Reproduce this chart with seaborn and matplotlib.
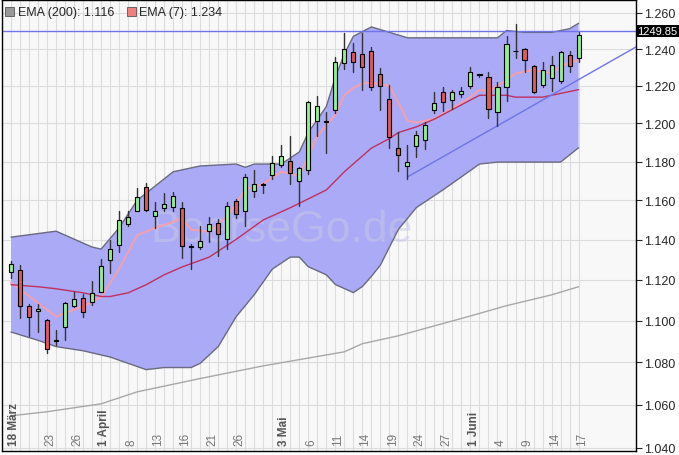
import numpy as np
import pandas as pd
import matplotlib
matplotlib.use("Agg")
import matplotlib.pyplot as plt
import matplotlib.patches as mpatches
import seaborn as sns

# --- Kerzen (Open, High, Low, Close) je Handelstag ---
opens = [1.124, 1.125, 1.107, 1.1045, 1.1005, 1.090, 1.097, 1.107, 1.111, 1.109,
         1.114, 1.130, 1.1373, 1.148, 1.1546, 1.167, 1.152, 1.156, 1.1566, 1.156,
         1.1363, 1.1363, 1.1445, 1.1485, 1.1404, 1.1597, 1.1546, 1.1648, 1.168, 1.1732,
         1.1783, 1.1803, 1.1697, 1.1757, 1.2011, 1.201, 1.2069, 1.2326, 1.2382, 1.2372,
         1.2392, 1.2263, 1.213, 1.187, 1.1778, 1.188, 1.1915, 1.2069, 1.2165, 1.2125,
         1.2155, 1.2201, 1.2258, 1.2248, 1.2059, 1.2196, 1.2387, 1.2402, 1.2309, 1.2206,
         1.2243, 1.2228, 1.2366, 1.2351]
highs = [1.1295, 1.1275, 1.108, 1.108, 1.101, 1.0955, 1.109, 1.114, 1.1128, 1.1196,
         1.1303, 1.140, 1.1543, 1.1543, 1.1665, 1.169, 1.159, 1.1635, 1.164, 1.159,
         1.138, 1.147, 1.1513, 1.1506, 1.159, 1.1607, 1.1736, 1.1757, 1.169, 1.1827,
         1.1887, 1.1933, 1.1773, 1.212, 1.2145, 1.206, 1.2356, 1.2491, 1.2432, 1.2491,
         1.2412, 1.2299, 1.2206, 1.1956, 1.1885, 1.1961, 1.2006, 1.217, 1.2196, 1.218,
         1.2196, 1.2304, 1.2264, 1.2273, 1.2223, 1.2471, 1.2536, 1.2407, 1.2314, 1.2329,
         1.2361, 1.2387, 1.2387, 1.2496]
lows = [1.121, 1.1015, 1.0925, 1.0945, 1.0845, 1.0885, 1.0905, 1.1068, 1.1018, 1.1078,
        1.1138, 1.1236, 1.134, 1.147, 1.1543, 1.1543, 1.146, 1.1543, 1.1543, 1.131,
        1.1255, 1.1353, 1.139, 1.132, 1.1353, 1.151, 1.147, 1.1618, 1.1635, 1.1712,
        1.1773, 1.1682, 1.157, 1.1737, 1.1933, 1.1847, 1.2054, 1.2294, 1.2277, 1.218,
        1.218, 1.2069, 1.187, 1.1752, 1.1712, 1.1823, 1.1865, 1.2054, 1.2064, 1.2079,
        1.214, 1.219, 1.2247, 1.2029, 1.1986, 1.212, 1.2351, 1.2278, 1.216, 1.2196,
        1.2175, 1.2218, 1.2278, 1.2331]
closes = [1.128, 1.107, 1.102, 1.1055, 1.0865, 1.0905, 1.1086, 1.1106, 1.104, 1.1135,
          1.127, 1.1353, 1.150, 1.1516, 1.1618, 1.155, 1.1546, 1.158, 1.1623, 1.137,
          1.1365, 1.1394, 1.148, 1.143, 1.1571, 1.153, 1.172, 1.1686, 1.1683, 1.1793,
          1.1828, 1.1742, 1.1767, 1.2115, 1.209, 1.2012, 1.2331, 1.2402, 1.2331, 1.2304,
          1.2196, 1.2201, 1.1931, 1.1833, 1.1798, 1.1941, 1.1991, 1.211, 1.2115, 1.2165,
          1.2175, 1.2273, 1.226, 1.2079, 1.2196, 1.2427, 1.2389, 1.2341, 1.217, 1.2284,
          1.2314, 1.2382, 1.2309, 1.2476]

# --- Bänder ---
upper_idx = [0, 5, 9, 10, 12, 14, 18, 21, 25, 26, 27, 30, 32, 33, 35, 36, 37, 38, 40, 42,
             44, 54, 55, 57, 60, 62, 63]
upper_val = [1.1413, 1.1443, 1.1363, 1.1353, 1.146, 1.160, 1.1747, 1.1777, 1.1787, 1.177,
             1.1787, 1.1787, 1.185, 1.1952, 1.209, 1.2247, 1.2374, 1.247, 1.2522, 1.2492,
             1.2462, 1.2462, 1.2502, 1.2492, 1.2492, 1.2512, 1.2542]
lower_idx = [0, 3, 5, 8, 11, 13, 15, 17, 20, 21, 23, 25, 27, 29, 31, 32, 33, 35, 36, 37,
             38, 39, 40, 41, 43, 45, 48, 52, 54, 61, 63]
lower_val = [1.0945, 1.0905, 1.0875, 1.0855, 1.0825, 1.0795, 1.0765, 1.0775, 1.0775, 1.0795,
             1.0875, 1.102, 1.1127, 1.1253, 1.1313, 1.1313, 1.1265, 1.1225, 1.1177, 1.1157,
             1.1137, 1.1167, 1.1217, 1.1273, 1.1452, 1.1563, 1.1655, 1.1787, 1.1797, 1.1797,
             1.1872]

# --- gleitende Durchschnitte ---
ema7_idx = [0, 5, 8, 10, 12, 14, 16, 18, 19, 20, 22, 24, 26, 28, 30, 32, 34, 36, 37, 38,
            39, 40, 42, 43, 44, 45, 47, 49, 51, 52, 53, 54, 56, 58, 60, 61, 63]
ema7_val = [1.1186, 1.102, 1.107, 1.1116, 1.1255, 1.1423, 1.146, 1.149, 1.151, 1.145,
            1.144, 1.152, 1.1654, 1.1685, 1.1747, 1.1727, 1.1933, 1.2047, 1.215, 1.219,
            1.2213, 1.2218, 1.220, 1.211, 1.2015, 1.2005, 1.2025, 1.208, 1.214, 1.218,
            1.217, 1.220, 1.2267, 1.2287, 1.2267, 1.2307, 1.2341]
mid_idx = [0, 3, 5, 8, 10, 11, 13, 15, 17, 19, 22, 25, 28, 31, 35, 37, 40, 42, 43, 45,
           47, 52, 55, 56, 59, 61, 63]
mid_val = [1.1176, 1.1166, 1.1156, 1.1136, 1.1118, 1.1118, 1.1136, 1.1176, 1.1225, 1.1264,
           1.1313, 1.1402, 1.150, 1.1562, 1.1653, 1.1747, 1.187, 1.192, 1.1952, 1.1982,
           1.2023, 1.215, 1.215, 1.214, 1.214, 1.216, 1.218]
ema200_idx = [0, 4, 10, 14, 21, 28, 37, 39, 43, 47, 51, 55, 60, 63]
ema200_val = [1.0548, 1.0567, 1.0604, 1.066, 1.0723, 1.0783, 1.085, 1.0889, 1.0927, 1.0975,
              1.1023, 1.1073, 1.1126, 1.1166]

trend_idx = [44, 69.6]
trend_val = [1.172, 1.2418]
last_price = 1.24985

date_pos = [0, 4, 7, 10, 13, 16, 19, 22, 25, 30, 33, 36, 39, 42, 45, 48, 51, 54, 57, 60, 63]
date_lbl = ["18 März", "23", "26", "1 April", "8", "13", "16", "21", "26", "3 Mai", "6",
            "11", "14", "19", "24", "27", "1 Juni", "4", "9", "14", "17"]
month_lbl = {"18 März", "1 April", "3 Mai", "1 Juni"}

sns.set_style("white")
plt.rcParams['font.family'] = ['Liberation Sans', 'DejaVu Sans']

fig = plt.figure(figsize=(6.79, 4.56), dpi=100)
ax = fig.add_axes([0.003, 0.009, 0.934, 0.989])
ax.set_facecolor("#f8f8f8")
ax.set_yscale("log")
ax.set_xlim(-1, 69.4)
ax.set_ylim(1.0386, 1.2672)

# Gitter
for i in range(64):
    ax.axvline(i, color="#dcdcdc", lw=0.8, zorder=0)
yt = np.round(np.arange(1.04, 1.261, 0.02), 3)
for v in yt:
    ax.axhline(v, color="#dcdcdc", lw=0.8, zorder=0)

# Band
bx = list(upper_idx) + list(lower_idx[::-1])
by = list(upper_val) + list(lower_val[::-1])
ax.fill(bx, by, facecolor="#aaaaf6", edgecolor="none", zorder=1)
sns.lineplot(x=upper_idx, y=upper_val, ax=ax, color="#6a6a80", lw=1, zorder=2)
sns.lineplot(x=lower_idx, y=lower_val, ax=ax, color="#6a6a80", lw=1, zorder=2)

# Linien
sns.lineplot(x=ema200_idx, y=ema200_val, ax=ax, color="#a8a8a8", lw=1, zorder=2)
sns.lineplot(x=ema7_idx, y=ema7_val, ax=ax, color="#f0a0b0", lw=1.5, zorder=2)
sns.lineplot(x=mid_idx, y=mid_val, ax=ax, color="#c03060", lw=1, zorder=2)
ax.plot(trend_idx, trend_val, color="#6f74e8", lw=1, zorder=2)
ax.axhline(last_price, color="#6f74e8", lw=1, zorder=2)

# Kerzen
df = pd.DataFrame({"o": opens, "h": highs, "l": lows, "c": closes})
df["x"] = np.arange(len(df))
for _, r in df.iterrows():
    ax.plot([r.x, r.x], [r.l, r.h], color="#333333", lw=1, zorder=3)
    lo, hi = min(r.o, r.c), max(r.o, r.c)
    col = "#8ef08e" if r.c >= r.o else "#e05858"
    ax.bar(r.x, max(hi - lo, 0.0004), bottom=lo, width=0.45, color=col,
           edgecolor="black", lw=0.8, zorder=4)

# Wasserzeichen
ax.text(30, 1.145, "BoerseGo.de", fontsize=32, color="#c8c8e8", alpha=0.5,
        ha="center", va="center", zorder=1)

# Achsen
ax.yaxis.tick_right()
ax.set_yticks(yt)
ax.set_yticklabels([f"{v:.3f}" for v in yt], fontsize=9)
ax.yaxis.set_minor_locator(matplotlib.ticker.NullLocator())
ax.tick_params(axis="y", length=4, pad=2)
ax.set_xticks(range(64))
ax.set_xticklabels([])
ax.tick_params(axis="x", length=3, direction="in")
for s in ax.spines.values():
    s.set_color("black")
    s.set_linewidth(1)

for p, t in zip(date_pos, date_lbl):
    bold = t in month_lbl
    ax.text(p + 0.35, 0.012, t, transform=ax.get_xaxis_transform(), rotation=90,
            ha="center", va="bottom", fontsize=8.5,
            color="#555555" if bold else "#777777",
            fontweight="bold" if bold else "normal")

# Kurs-Box
ax.text(1.002, last_price, "1249.85", transform=ax.get_yaxis_transform(),
        fontsize=8, color="white", va="center", ha="left",
        bbox=dict(facecolor="black", edgecolor="none", pad=1.0))

# Legende
fig.patches.append(mpatches.Rectangle((0.008, 0.962), 0.013, 0.02, transform=fig.transFigure,
                                      facecolor="#999999", edgecolor="#555555", lw=0.6))
fig.text(0.026, 0.972, "EMA (200): 1.116", fontsize=9, va="center")
fig.patches.append(mpatches.Rectangle((0.187, 0.962), 0.013, 0.02, transform=fig.transFigure,
                                      facecolor="#f08080", edgecolor="#555555", lw=0.6))
fig.text(0.205, 0.972, "EMA (7): 1.234", fontsize=9, va="center")

fig.savefig("out.png", dpi=100)
